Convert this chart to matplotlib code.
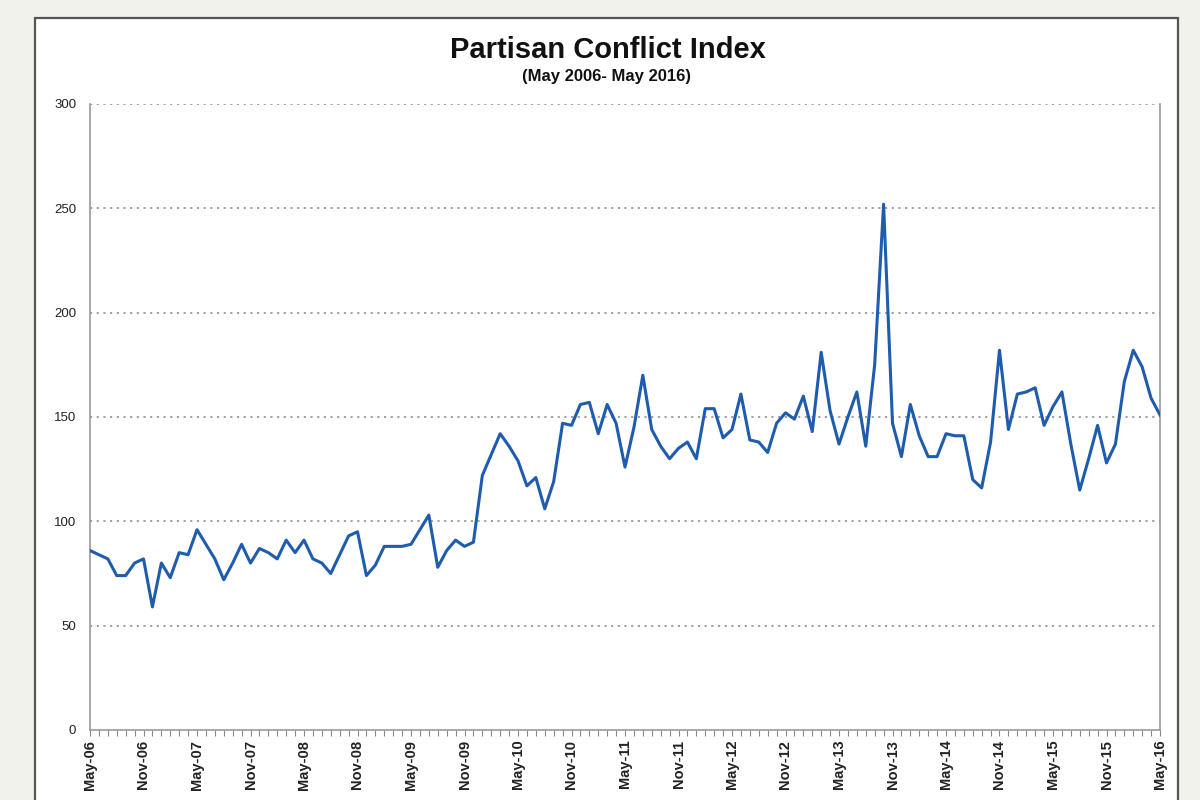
import matplotlib
matplotlib.use("Agg")
import matplotlib.pyplot as plt
from matplotlib.patches import Rectangle

# Monthly Partisan Conflict Index, May 2006 - May 2016
index_values = [
    86, 84, 82, 74, 74, 80, 82, 59, 80, 73, 85, 84,
    96, 89, 82, 72, 80, 89, 80, 87, 85, 82, 91, 85,
    91, 82, 80, 75, 84, 93, 95, 74, 79, 88, 88, 88,
    89, 96, 103, 78, 86, 91, 88, 90, 122, 132, 142, 136,
    129, 117, 121, 106, 119, 147, 146, 156, 157, 142, 156, 147,
    126, 145, 170, 144, 136, 130, 135, 138, 130, 154, 154, 140,
    144, 161, 139, 138, 133, 147, 152, 149, 160, 143, 181, 153,
    137, 150, 162, 136, 175, 252, 147, 131, 156, 141, 131, 131,
    142, 141, 141, 120, 116, 138, 182, 144, 161, 162, 164, 146,
    155, 162, 137, 115, 130, 146, 128, 137, 167, 182, 174, 159,
    151,
]
tick_labels = [
    "May-06", "Nov-06", "May-07", "Nov-07", "May-08", "Nov-08",
    "May-09", "Nov-09", "May-10", "Nov-10", "May-11", "Nov-11",
    "May-12", "Nov-12", "May-13", "Nov-13", "May-14", "Nov-14",
    "May-15", "Nov-15", "May-16",
]
y_ticks = [0, 50, 100, 150, 200, 250, 300]

plt.rcParams['font.family'] = ['Liberation Sans', 'DejaVu Sans']

fig = plt.figure(figsize=(12, 8), dpi=100)
fig.patch.set_facecolor('#f2f2ed')

# white panel with dark border (runs off the bottom of the image)
panel = Rectangle((35 / 1200, -0.05), (1178 - 35) / 1200, 1 - 18 / 800 + 0.05,
                  transform=fig.transFigure, facecolor='white',
                  edgecolor='#555555', linewidth=1.6, zorder=-10)
fig.patches.append(panel)

ax = fig.add_axes([90 / 1200, 1 - 730 / 800, (1160 - 90) / 1200, (730 - 104) / 800])
ax.set_zorder(1)
ax.set_facecolor('white')

months = list(range(len(index_values)))
ax.plot(months, index_values, color='#1f5cad', linewidth=2.2, zorder=3)

ax.set_xlim(0, len(index_values) - 1)
ax.set_ylim(0, 300)
ax.set_yticks(y_ticks)
ax.set_yticklabels([str(v) for v in y_ticks], fontsize=9.5, color='#222222')
ax.set_xticks(list(range(0, len(index_values), 6)))
ax.set_xticklabels(tick_labels, rotation=90, fontsize=10.5, fontweight='bold', color='#222222')
ax.set_xticks(months, minor=True)
ax.tick_params(axis='x', which='both', direction='out', length=4, width=0.8, color='#888888', pad=3)
ax.tick_params(axis='y', length=0, pad=10)

for y in y_ticks[1:]:
    ax.axhline(y, color='#999999', linestyle=(0, (1.2, 2.5)), linewidth=1.3, zorder=1)

for side in ['left', 'right', 'bottom']:
    ax.spines[side].set_color('#999999')
    ax.spines[side].set_linewidth(1.2)
ax.spines['top'].set_visible(False)

fig.text(608 / 1200, 1 - 50 / 800, 'Partisan Conflict Index', ha='center', va='center',
         fontsize=21, fontweight='bold', color='#111111')
fig.text(607 / 1200, 1 - 77 / 800, '(May 2006- May 2016)', ha='center', va='center',
         fontsize=12, fontweight='bold', color='#111111')

fig.savefig('out.png', dpi=100, facecolor=fig.get_facecolor())
